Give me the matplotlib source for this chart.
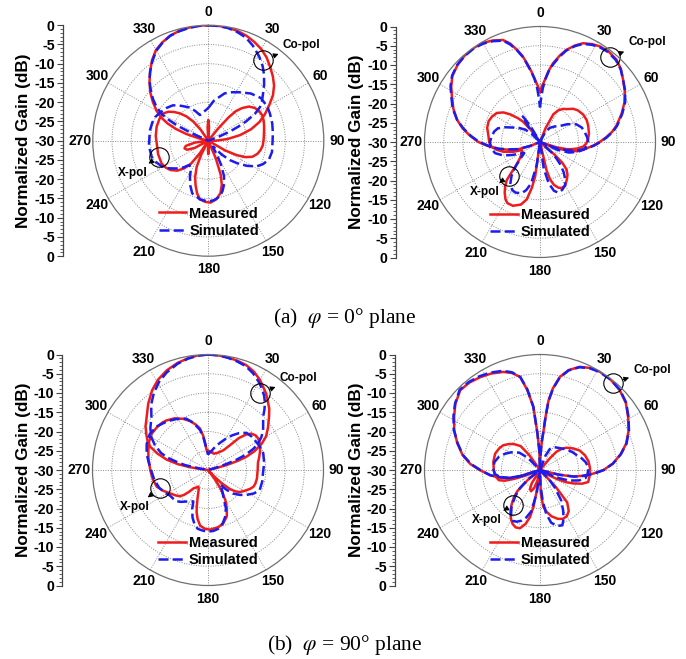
import numpy as np
import matplotlib
matplotlib.use('Agg')
import matplotlib.pyplot as plt
from matplotlib.lines import Line2D
from matplotlib.ticker import MultipleLocator

plt.rcParams['font.family'] = ['Liberation Sans', 'DejaVu Sans']
plt.rcParams['mathtext.fontset'] = 'stix'

# ---------------- data (angle in degrees, gain in dB) ----------------
theta_ticks = list(range(0, 360, 30))
gain_ticks = [-30, -25, -20, -15, -10, -5, 0]

# (a) phi = 0 deg plane, left antenna
a1_co_meas_ang = [0, 5, 10, 15, 20, 25, 30, 35, 40, 45, 50, 55, 60, 65, 70, 75, 80, 85, 90, 95,
                  175, 178, 180, 182, 185, 238, 242, 247, 252, 257, 262, 265,
                  282, 284, 287, 290, 293, 296, 300, 305, 310, 315, 320, 325, 330, 335, 340, 345, 350, 355, 360]
a1_co_meas_db = [0, -0.05, -0.2, -0.5, -1, -1.7, -2.5, -3.6, -5, -6.3, -7.7, -9.5, -11.8, -13.8, -15.9, -18.5,
                 -21.6, -25, -28, -30,
                 -30, -27.5, -26.5, -27.5, -30, -30, -26, -24, -23.5, -24, -26.5, -30,
                 -30, -27.5, -24, -21, -18.5, -16.5, -14.5, -12.4, -10.3, -8.4, -6.5, -4.5, -2.8, -1.8, -1, -0.5,
                 -0.2, -0.05, 0]
a1_co_sim_ang = [0, 5, 10, 15, 20, 25, 31, 36, 40, 45, 50, 54, 57, 60, 63, 65, 67, 69, 71,
                 292, 294, 295, 296, 298, 300, 303, 307, 312, 316, 320, 325, 330, 335, 340, 345, 350, 355, 360]
a1_co_sim_db = [0, -0.1, -0.3, -0.8, -1.5, -2.7, -4.4, -6, -7.5, -9.5, -11.5, -12.8, -14, -16, -19, -21.5, -24, -27,
                -30, -30, -27, -24, -21, -18, -16, -14, -12, -9.8, -8, -6.5, -4.7, -3, -1.9, -1, -0.6, -0.3, -0.1, 0]
a1_x_meas_ang = [-6, -3, 0, 3, 6,
                 38, 39, 41, 43, 46, 50, 55, 60, 65, 70, 75, 80, 88, 95, 100, 105, 110, 114, 117, 120, 122,
                 155, 157, 160, 163, 167, 172, 178, 183, 188, 192, 196, 200, 204, 207, 209,
                 212, 214, 217, 221, 226, 232, 238, 244, 255, 266, 275, 285, 294, 301, 306, 310, 314, 318, 322,
                 325, 327]
a1_x_meas_db = [-30, -26.5, -24.6, -26.5, -30,
                -30, -26, -22, -19.5, -17.8, -16.2, -15.2, -14.7, -14.5, -14.7, -15, -15.3, -15.6, -15.8, -16.2,
                -16.8, -17.8, -19.5, -21.8, -25, -30,
                -30, -25, -20.5, -18, -16, -14.7, -13.9, -14.1, -14.6, -16, -18, -20, -22.6, -26, -30,
                -30, -26, -22.5, -20.5, -18.8, -17.6, -16.9, -16.5, -16.5, -16.6, -16.3, -16.1, -16.1, -16.3,
                -17.2, -18.4, -19.8, -21.5, -23.7, -26.5, -30]
a1_x_sim_ang = [0, 8, 19, 26, 33, 42, 51, 60, 66, 75, 83, 90, 100, 107, 113, 118, 123, 128, 132, 136, 140, 144,
                148, 152, 156, 160, 164, 168, 174, 180, 188, 197, 202, 207, 212, 218, 223, 229, 235, 241, 248,
                254, 265, 280, 288, 294, 300, 308, 315, 322, 330, 336, 342, 350, 360]
a1_x_sim_db = [-21.5, -19.5, -17, -16, -15, -13.5, -12.4, -12.3, -12.5, -12.8, -13.1, -13.3, -13.2, -13.5, -14.5,
               -15.8, -18, -20.5, -22.5, -25, -28, -28, -26, -23, -20, -18, -16.5, -15.3, -14.5, -14.2, -14.6,
               -15.7, -17.5, -19.5, -21.5, -22, -20.5, -19, -17.5, -16.2, -15.3, -14.7, -14.5, -14.6, -14.7,
               -14.9, -15.5, -16.2, -17, -18.5, -20, -21.5, -23, -22.5, -21.5]

# (a) phi = 0 deg plane, right antenna
a2_co_meas_ang = [0, 2, 4.5, 7, 9.5, 13, 16, 20, 23.6, 28, 32, 37, 42.8, 48, 53, 59, 65, 71, 78, 82, 86, 90, 94,
                  99, 104, 107, 110, 113, 115,
                  245, 248, 252, 257, 261, 266, 270, 275, 280, 285, 291, 297.5, 302, 307, 313, 319, 325, 330, 335,
                  340, 343, 346, 348.5, 350.5, 353, 355.5, 358, 360]
a2_co_meas_db = [-17, -15.5, -13.8, -11.3, -9.2, -6.9, -5.1, -3.3, -2, -1.2, -0.7, -0.5, -0.8, -1.7, -3, -4.3,
                 -5.8, -7.6, -9.7, -11.1, -12.8, -14.5, -16.2, -18.2, -20.2, -22.5, -25, -28, -30,
                 -30, -27, -23.5, -21.2, -18.7, -16.2, -14, -11.8, -9.6, -7.7, -5.9, -4.2, -2.8, -1.5, -0.7,
                 -0.2, -0.1, -0.3, -0.9, -1.8, -3.2, -5.3, -7.2, -9.2, -11.5, -13.8, -15.6, -17]
a2_co_sim_ang = [0, 1.5, 3, 5, 7, 9.5, 13, 16, 20, 23.6, 28, 32, 37, 42.8, 48, 53, 59, 65, 71, 78, 82, 86, 90, 94,
                 99, 104, 107, 110, 113, 115,
                 245, 248, 252, 257, 261, 266, 270, 275, 280, 285, 291, 297.5, 302, 307, 313, 319, 325, 330, 335,
                 340, 343, 346, 348.5, 350.5, 353, 355, 357, 358.5, 360]
a2_co_sim_db = [-21, -18.5, -16, -13.5, -11.5, -9.6, -7.2, -5.3, -3.5, -2.2, -1.4, -0.9, -0.7, -1, -1.8, -3, -4.2,
                -5.6, -7.4, -9.5, -10.9, -12.6, -14.3, -16, -18.3, -20.5, -22.8, -25, -28, -30,
                -30, -27.5, -24, -21.5, -19, -16.5, -14.2, -12, -9.8, -7.7, -5.7, -4, -2.6, -1.4, -0.6, -0.3,
                -0.2, -0.5, -1.1, -2, -3.5, -5.5, -7.4, -9.4, -11.7, -13.5, -16, -18.5, -21]
a2_x_meas_ang = [20, 22, 25.7, 30, 35, 39, 45, 50, 57.5, 65, 71.7, 80, 87, 92, 96, 100, 103, 105, 108, 111,
                 128, 131, 133, 136, 140, 144, 150, 155, 158, 162, 165, 167, 170,
                 186, 188, 190, 193, 197, 203, 208, 211, 215, 218, 221, 223, 225, 230, 235, 241, 246, 250, 255,
                 260, 265, 270, 277, 285, 292, 298, 304, 309, 313, 317, 320, 323, 325]
a2_x_meas_db = [-30, -26, -22, -20.5, -19.5, -19, -17.8, -17.2, -16.7, -16.6, -16.8, -17.1, -17.5, -18, -18.7,
                -20.2, -21.7, -22.8, -25.5, -30,
                -30, -25, -22, -20.1, -18.9, -18.1, -16.9, -16.8, -17.2, -18.3, -20, -22.5, -30,
                -30, -21, -18, -14.7, -13, -12, -12, -12.6, -14, -15.3, -16.8, -19, -21, -23, -24, -24.7, -24.8,
                -22.5, -20.2, -18.5, -17.3, -16.8, -16.5, -15.8, -15.6, -15.9, -16.5, -17.8, -19.5, -21.5, -23,
                -26, -30]
a2_x_sim_ang = [25, 28, 35, 43, 51, 57, 64, 71, 78, 84, 89, 95, 100, 105, 110, 114, 118,
                128, 132, 135, 138, 142, 146, 150, 155, 160, 164, 168, 172, 176,
                185, 188, 192, 196, 200, 206, 210, 215, 220, 225, 230, 235, 240, 245, 250, 256, 263.5, 270, 277,
                283, 288, 293, 298, 304, 310, 314, 318, 323, 326, 329, 332]
a2_x_sim_db = [-30, -27, -25.5, -24.5, -23.4, -21.5, -19.5, -18.5, -18.1, -17.7, -17.5, -17.8, -18.5, -20, -22,
               -25, -30,
               -30, -26, -24, -22, -20, -18.3, -17, -16.3, -16, -16.8, -19, -23, -30,
               -30, -24, -19, -17, -15.8, -15.4, -15.6, -16.5, -18.5, -21, -23.5, -25, -24, -22, -19.8, -18,
               -17, -17, -17.4, -17.8, -18.5, -20.2, -22, -23.5, -25, -27, -30, -25, -22, -25, -30]

# (b) phi = 90 deg plane, left antenna
b1_co_meas_ang = [0, 5, 10, 15, 20, 25, 30, 33.6, 37, 40, 45, 49, 55, 60, 64, 68, 71, 73, 75, 77, 78,
                  276, 277, 279, 281, 284, 288, 292, 296, 300, 305, 311, 318, 325, 331, 337.5, 344, 350, 355, 360]
b1_co_meas_db = [0, -0.1, -0.3, -0.6, -1, -1.8, -3, -4.1, -5, -6, -7.5, -9, -11, -12.6, -14.5, -17, -19.5, -22,
                 -25, -28, -30,
                 -30, -28, -25, -22, -19, -16.2, -13.8, -12.5, -11.5, -10.2, -8.9, -6.8, -4.7, -3.2, -2, -1.1,
                 -0.5, -0.1, 0]
b1_co_sim_ang = [0, 5, 10, 15, 20, 25, 30, 33, 37, 40, 43, 46, 50, 54, 58, 62, 65, 68, 70, 72, 74, 75,
                 280, 281, 282, 284, 287, 290, 295, 300, 306, 313, 319, 325, 331, 337, 344, 350, 355, 360]
b1_co_sim_db = [0, -0.1, -0.4, -0.8, -1.3, -2.3, -3.6, -4.5, -5.8, -7, -8.5, -10.1, -11.3, -12.3, -13.6, -15.2,
                -17, -19.5, -22, -25, -28, -30,
                -30, -27, -24, -22, -19, -17, -14.8, -13, -11.5, -9.9, -7.5, -5.5, -3.8, -2.5, -1.3, -0.6, -0.2, 0]
b1_x_meas_ang = [0, 10, 20, 30, 38, 42, 44, 47, 50, 54, 58, 63, 70, 76, 82, 90, 100, 106, 110, 114, 117, 121,
                 125, 128, 131, 134, 137, 140, 143, 146, 150, 154, 158, 164, 170, 178, 183, 188, 192, 195, 197,
                 200, 203, 206, 210, 214, 218, 221, 224, 227, 232, 238, 245, 252, 260, 270, 280, 288, 296, 303,
                 310, 316, 320, 327, 334, 340, 345, 349, 352, 354, 356, 360]
b1_x_meas_db = [-25, -25.3, -25.5, -24.8, -23.5, -21, -18.5, -16.5, -15.3, -14.7, -14.6, -14.9, -15.6, -16.3,
                -16.9, -17.1, -17.1, -17.2, -17.4, -18, -18.6, -19.3, -20, -21, -22.5, -25, -28, -30, -27, -24,
                -21, -18.8, -17, -15.6, -14.9, -14.5, -14.7, -15.4, -17, -18.6, -20, -22, -23.5, -24.5, -25,
                -24.5, -24, -22.5, -21, -20, -19.3, -18.5, -17.2, -16, -15.5, -15, -14.3, -13.7, -13, -12.6,
                -12.7, -12.9, -13.2, -14, -15.2, -16.5, -17.8, -19, -21, -23, -24.8, -25]
b1_x_sim_ang = [0, 5, 10, 18, 25, 30, 35, 40, 46, 53, 60, 66, 73, 83, 93, 102, 111, 117, 123, 128, 133, 137,
                140, 144, 147, 150, 155, 160, 165, 170, 175, 180, 185, 190, 194, 198, 202, 205, 210, 215, 220,
                225, 230, 236, 243, 250, 260, 270, 278, 285, 293, 302, 311, 320, 328, 337, 343, 349, 352, 355,
                360]
b1_x_sim_db = [-26, -25.5, -25, -23.5, -22, -20.5, -19, -17.5, -16.1, -15.7, -15.5, -15.2, -15, -15.3, -15.7,
               -15.6, -15.6, -16.6, -18.1, -19.5, -21, -23, -25, -24, -23, -22, -19, -17, -15.5, -14.5, -14.1,
               -14, -14.2, -14.5, -15.5, -17, -19, -21, -20.6, -20, -19.2, -18.5, -18.3, -18.1, -17.3, -16.5,
               -15.8, -15.2, -14.4, -13.5, -12.7, -12.2, -12.6, -13.5, -14.4, -15.5, -17.2, -19.5, -21.5, -24,
               -26]

# (b) phi = 90 deg plane, right antenna
b2_co_meas_ang = [0, 2, 3, 4, 5, 6, 7, 9, 12, 16, 21, 26, 31, 38, 45, 52, 59, 66, 73, 79, 85, 90, 94, 98, 101,
                  104, 107,
                  190, 194, 198, 203, 208, 212, 216,
                  250, 253, 256, 260, 264, 270, 275, 281, 288, 295, 302, 308, 315, 321, 327, 333, 339.5, 344, 348,
                  351, 354, 356, 358, 360]
b2_co_meas_db = [-30, -26, -24, -22, -20.5, -16, -11.8, -8.5, -5.3, -3, -1.3, -0.5, -0.1, -0.2, -0.7, -1.7, -3.3,
                 -4.8, -6.6, -8.7, -11, -13.5, -16.2, -19, -21.2, -25, -30,
                 -30, -27, -25, -24, -24.5, -26, -30,
                 -30, -24, -21, -19, -17, -14.3, -11.8, -9.5, -7.4, -5.4, -3.7, -2.1, -0.7, -0.8, -1.3, -1.9,
                 -2.8, -3.8, -5.3, -9, -13.5, -20.5, -25, -30]
b2_co_sim_ang = [0, 2, 3, 4, 5, 6, 7, 9, 12, 16, 21, 26, 31, 38, 45, 52, 59, 66, 73, 79, 85, 90, 94, 98, 101,
                 104, 107,
                 250, 253, 256, 260, 264, 270, 275, 281, 288, 295, 302, 308, 315, 321, 327, 333, 339.5, 344, 348,
                 351, 354, 356, 358, 360]
b2_co_sim_db = [-30, -26, -24, -22, -20, -16, -12, -8.7, -5.5, -3.1, -1.4, -0.6, -0.2, -0.2, -0.6, -1.6, -3.2,
                -4.7, -6.5, -8.6, -11, -13.4, -16, -18.8, -21, -25, -30,
                -30, -24.5, -21.5, -19.3, -17, -14.5, -12, -9.6, -7.5, -5.3, -3.5, -2, -0.5, -0.6, -1, -1.6,
                -2.5, -3.6, -5.3, -8.7, -13.5, -20.5, -25, -30]
b2_x_meas_ang = [38, 40, 42, 46, 50, 57, 64, 72, 80, 88, 96, 104, 108, 112, 115, 118, 122, 125,
                 135, 137, 140, 145, 150, 155, 160, 166, 171, 175, 178, 181,
                 187, 189, 190, 192, 195, 199, 203, 207, 211, 215, 219, 222, 225, 227, 231, 235,
                 247, 249, 251, 253, 256, 262, 270, 280, 290, 298, 304, 310, 315, 321, 324, 328]
b2_x_meas_db = [-30, -26, -23.6, -22, -21, -19.7, -18.5, -17.7, -17.2, -17, -17, -17.1, -18.5, -20.7, -22.5, -25,
                -28, -30,
                -30, -24, -19, -17, -16.1, -16, -16.5, -17.6, -19, -20.5, -24, -30,
                -30, -24, -20.4, -17.5, -15.5, -14, -13.8, -14.3, -15.3, -16.6, -18.2, -19.5, -21, -22, -26, -30,
                -30, -26, -23, -20.5, -19, -18.3, -18, -17.7, -17.6, -18, -18.5, -19.5, -20.5, -22, -25, -30]
b2_x_sim_ang = [18, 21, 25, 32, 40, 48, 55, 62, 68, 74, 80, 85, 90, 95, 100, 105, 110, 115, 120,
                135, 137, 140, 145, 150, 154, 158, 163, 168, 172, 175, 178, 180,
                185, 188, 192, 196, 200, 204, 208, 213, 218, 223, 228, 232, 235,
                250, 252, 255, 260, 265, 272, 280, 288, 295, 302, 310, 315, 320]
b2_x_sim_db = [-30, -26, -24, -23, -22.5, -21.8, -21, -20.3, -19.7, -18.8, -18, -17.6, -17.5, -17.6, -18, -19.5,
               -22, -25.5, -30,
               -30, -26, -24, -20.5, -18, -16, -14.5, -14.8, -16, -18.5, -22, -26, -30,
               -30, -24, -19, -17.2, -16, -15.3, -15, -16.2, -18, -20.5, -23, -26, -30,
               -30, -25, -22, -19.5, -18.2, -17.8, -18, -18.8, -20, -21.3, -23, -25.5, -30]

legend_labels = ['Measured', 'Simulated']
captions = [r'(a)  $\varphi$ = 0° plane', r'(b)  $\varphi$ = 90° plane']

# ---------------- layout (pixels) ----------------
W, H = 686, 659
R = 115.5
RED = '#ee1c1c'
BLUE = '#1c1cee'

fig = plt.figure(figsize=(W / 100, H / 100), dpi=100)


def draw_panel(cx, cy, axis_x, label_x, meas, sim, copol_at, copol_off, xpol_at, xpol_off):
    ax = fig.add_axes([(cx - R) / W, 1 - (cy + R) / H, 2 * R / W, 2 * R / H], projection='polar')
    ax.set_theta_zero_location('N')
    ax.set_theta_direction(-1)
    ax.set_facecolor('none')
    ax.set_ylim(gain_ticks[0], gain_ticks[-1])
    ax.set_yticks(gain_ticks[1:-1])
    ax.set_yticklabels([])
    ax.set_xticks(np.deg2rad(theta_ticks))
    ax.set_xticklabels([str(t) for t in theta_ticks], fontsize=10, fontweight='bold')
    ax.tick_params(axis='x', pad=-1)
    ax.grid(True, linestyle=(0, (1, 1.5)), color='#8a8a8a', linewidth=0.7)
    ax.spines['polar'].set_color('#707070')
    ax.spines['polar'].set_linewidth(0.9)

    for ang, db in meas:
        ax.plot(np.deg2rad(ang), np.maximum(db, -30), color=RED, lw=1.8, solid_joinstyle='round')
    for ang, db in sim:
        ax.plot(np.deg2rad(ang), np.maximum(db, -30), color=BLUE, lw=1.8, dashes=(4, 1.7))

    handles = [Line2D([], [], color=RED, lw=1.8), Line2D([], [], color=BLUE, lw=1.8, dashes=(4, 1.7))]
    ax.legend(handles, legend_labels, loc='upper left', bbox_to_anchor=(0.285, 0.215), frameon=False,
              handlelength=1.9, handletextpad=0.2, labelspacing=0.22,
              borderpad=0, borderaxespad=0, prop={'weight': 'bold', 'size': 10.5})

    for (th, r), (ox, oy), txt in [(copol_at, copol_off, 'Co-pol'), (xpol_at, xpol_off, 'X-pol')]:
        ax.plot([np.deg2rad(th)], [r], marker='o', ms=14, mfc='none', mec='black', mew=0.8, clip_on=False)
        ax.annotate(txt, xy=(np.deg2rad(th), r), xytext=(ox * 0.72, oy * 0.72), textcoords='offset points',
                    ha='center', va='center', fontsize=8.5, fontweight='bold',
                    arrowprops=dict(arrowstyle='<|-,head_length=0.35,head_width=0.18', color='black', lw=0.7,
                                    shrinkA=1, shrinkB=7.5))

    axl = fig.add_axes([axis_x / W, 1 - (cy + R) / H, 0.0001, 2 * R / H])
    axl.set_ylim(-30, 30)
    for s in ['right', 'top', 'bottom']:
        axl.spines[s].set_visible(False)
    axl.spines['left'].set_color('#444444')
    axl.spines['left'].set_linewidth(0.9)
    axl.set_xticks([])
    major = np.arange(-30, 31, 5)
    axl.set_yticks(major)
    axl.set_yticklabels([str(abs(int(v)) - 30) for v in major], fontsize=10.2, fontweight='bold')
    axl.yaxis.set_minor_locator(MultipleLocator(1))
    axl.tick_params(axis='y', which='major', length=4, width=0.8, direction='out', pad=2, color='#444444')
    axl.tick_params(axis='y', which='minor', length=2, width=0.6, direction='out', color='#444444')
    fig.text(label_x / W, 1 - cy / H, 'Normalized Gain (dB)', rotation=90, ha='center', va='center',
             fontsize=12.3, fontweight='bold')


draw_panel(208.3, 140.7, 63, 24,
           [(a1_co_meas_ang, a1_co_meas_db), (a1_x_meas_ang, a1_x_meas_db)],
           [(a1_co_sim_ang, a1_co_sim_db), (a1_x_sim_ang, a1_x_sim_db)],
           (34.1, -4.7), (38.5, 15), (251.7, -16.5), (-26, -16))
draw_panel(540, 142, 396, 357,
           [(a2_co_meas_ang, a2_co_meas_db), (a2_x_meas_ang, a2_x_meas_db)],
           [(a2_co_sim_ang, a2_co_sim_db), (a2_x_sim_ang, a2_x_sim_db)],
           (39.6, -1.45), (37, 15), (222.1, -18.0), (-24, -16))
draw_panel(208, 470, 62.5, 24,
           [(b1_co_meas_ang, b1_co_meas_db), (b1_x_meas_ang, b1_x_meas_db)],
           [(b1_co_sim_ang, b1_co_sim_db), (b1_x_sim_ang, b1_x_sim_db)],
           (34.0, -5.9), (38.5, 15), (249.4, -16.7), (-25, -19))
draw_panel(540, 470, 395, 357,
           [(b2_co_meas_ang, b2_co_meas_db), (b2_x_meas_ang, b2_x_meas_db)],
           [(b2_co_sim_ang, b2_co_sim_db), (b2_x_sim_ang, b2_x_sim_db)],
           (40.0, -0.5), (39, 13), (217.6, -18.5), (-26, -15))

for cap, y in zip(captions, [318, 645]):
    fig.text(345 / W, 1 - y / H, cap, ha='center', va='center', fontsize=15.5,
             family='Liberation Serif')

fig.savefig('out.png', dpi=100)
